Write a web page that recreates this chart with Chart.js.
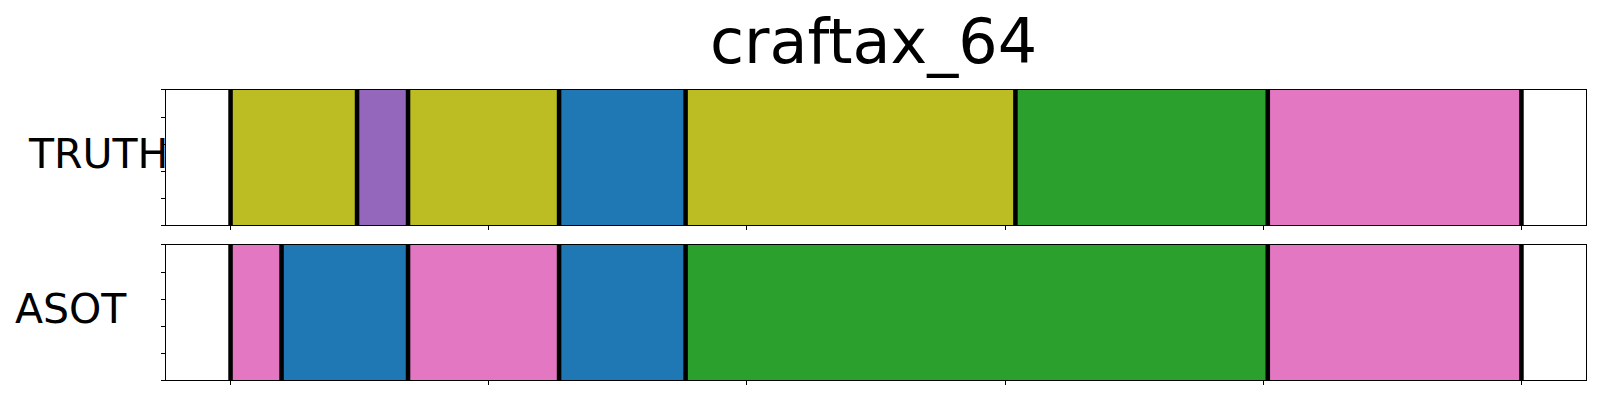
<!DOCTYPE html>
<html>
<head>
<meta charset="utf-8">
<script src="https://cdn.jsdelivr.net/npm/chart.js@4.4.1/dist/chart.umd.min.js"></script>
<style>
body { margin: 0; background: #fff; width: 1600px; height: 400px; position: relative; overflow: hidden; font-family: "DejaVu Sans", sans-serif; }
.lbl { position: absolute; color: #000; white-space: nowrap; }
#title { left: 0; width: 1747px; text-align: center; top: 11px; font-size: 62px; line-height: 62px; }
#truthLbl { left: 29px; top: 134px; font-size: 41px; line-height: 41px; }
#asotLbl { left: 15px; top: 289px; font-size: 41px; line-height: 41px; }
canvas { position: absolute; }
#truth { left: 161px; top: 89px; }
#asot { left: 161px; top: 244px; }
</style>
</head>
<body>
<div id="title" class="lbl">craftax_64</div>
<div id="truthLbl" class="lbl">TRUTH</div>
<div id="asotLbl" class="lbl">ASOT</div>
<canvas id="truth" width="1426" height="141"></canvas>
<canvas id="asot" width="1426" height="141"></canvas>
<script>
'use strict';

const xTicks = [0, 20, 40, 60, 80, 100];
const yTicks = [0, 0.25, 0.5, 0.75, 1];

// segment boundaries (frame position) and cluster id of each segment
const truthBounds = [0, 9.8, 13.75, 25.45, 35.25, 60.8, 80.35, 100];
const truthClasses = [8, 4, 8, 0, 8, 2, 6];
const asotBounds = [0, 3.95, 13.75, 25.45, 35.25, 80.35, 100];
const asotClasses = [6, 0, 6, 0, 2, 6];

const tab10 = ['#1f77b4', '#ff7f0e', '#2ca02c', '#d62728', '#9467bd',
               '#8c564b', '#e377c2', '#7f7f7f', '#bcbd22', '#17becf'];

const lineHalf = 0.15;

// box around the axes
const frame = {
	id: 'frame',
	afterDraw(chart) {
		const { ctx, chartArea: a } = chart;
		ctx.save();
		ctx.strokeStyle = '#000';
		ctx.lineWidth = 1;
		ctx.strokeRect(a.left - 0.5, a.top - 0.5, a.right - a.left + 1, a.bottom - a.top + 1);
		ctx.restore();
	}
};

function rowChart(id, label, bounds, classes) {
	let segs = classes.map((c, i) => ({ x: [bounds[i], bounds[i + 1]], y: label }));
	let marks = bounds.map(b => ({ x: [b - lineHalf, b + lineHalf], y: label }));
	let barOpts = { grouped: false, barPercentage: 1, categoryPercentage: 1, borderWidth: 0 };

	return new Chart(document.getElementById(id), {
		type: 'bar',
		data: {
			labels: [label],
			datasets: [
				Object.assign({ data: marks, backgroundColor: '#000', order: 0 }, barOpts),
				Object.assign({ data: segs, backgroundColor: classes.map(c => tab10[c]), order: 1 }, barOpts)
			]
		},
		options: {
			indexAxis: 'y',
			responsive: false,
			animation: false,
			layout: { padding: { top: 1, right: 1, left: 0, bottom: 0 } },
			plugins: { legend: { display: false }, tooltip: { enabled: false }, title: { display: false } },
			scales: {
				x: {
					type: 'linear', position: 'bottom', min: -5, max: 105,
					afterBuildTicks: s => { s.ticks = xTicks.map(v => ({ value: v })); },
					afterFit: s => { s.height = 5; },
					ticks: { display: false },
					border: { display: false },
					grid: { drawOnChartArea: false, drawTicks: true, tickLength: 5, color: '#000', lineWidth: 1 }
				},
				y: { type: 'category', display: false },
				yt: {
					type: 'linear', axis: 'y', position: 'left', min: 0, max: 1,
					afterBuildTicks: s => { s.ticks = yTicks.map(v => ({ value: v })); },
					afterFit: s => { s.width = 5; },
					ticks: { display: false },
					border: { display: false },
					grid: { drawOnChartArea: false, drawTicks: true, tickLength: 5, color: '#000', lineWidth: 1 }
				}
			}
		},
		plugins: [frame]
	});
}

rowChart('truth', 'TRUTH', truthBounds, truthClasses);
rowChart('asot', 'ASOT', asotBounds, asotClasses);
</script>
</body>
</html>
